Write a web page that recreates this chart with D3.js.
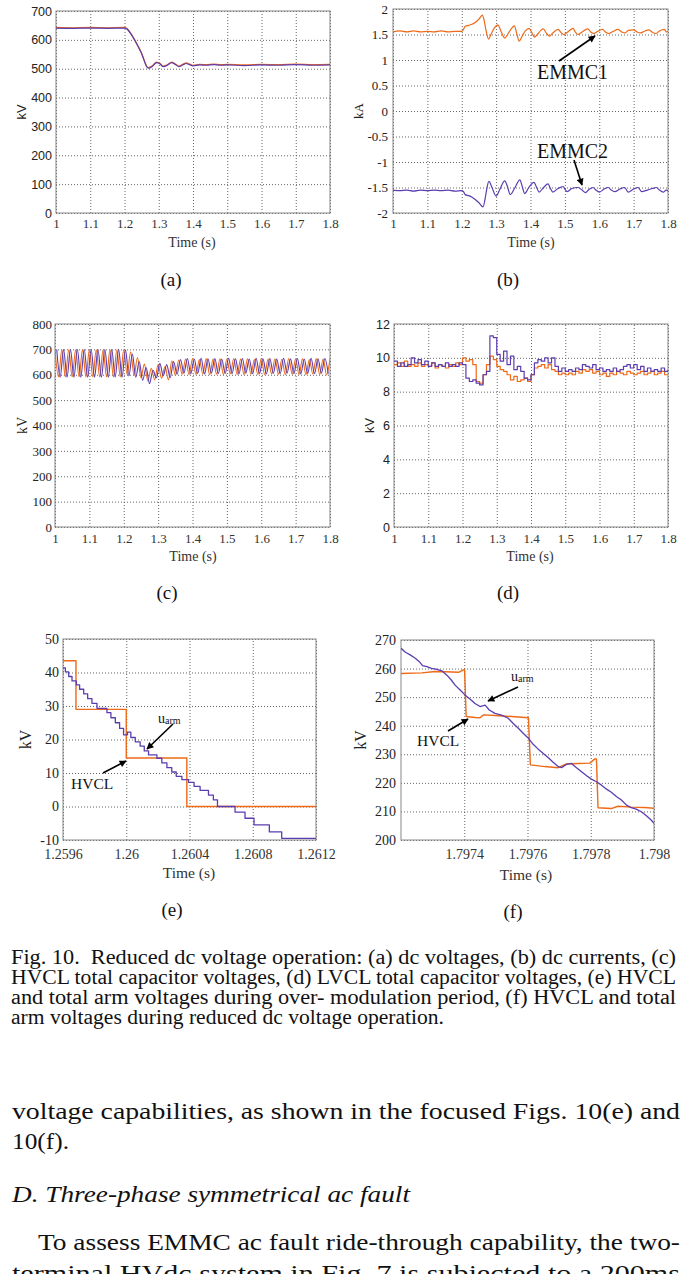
<!DOCTYPE html>
<html>
<head>
<meta charset="utf-8">
<script src="https://cdn.jsdelivr.net/npm/d3@7"></script>
<style>
  body { margin: 0; background: #fff; }
  svg { display: block; }
  .serif { font-family: 'Liberation Serif', 'Times New Roman', Times, 'Nimbus Roman', serif; }
  .sans { font-family: 'Liberation Sans', Arial, Helvetica, sans-serif; }
</style>
</head>
<body>
<svg id="fig"></svg>
<script>
// ---- data ----
const ticksTime = [1, 1.1, 1.2, 1.3, 1.4, 1.5, 1.6, 1.7, 1.8];
const ticksE = [1.2596, 1.26, 1.2604, 1.2608, 1.2612];
const ticksF = [1.7974, 1.7976, 1.7978, 1.798];

// (a) dc voltages
const tA = [1.0, 1.05, 1.1, 1.15, 1.2, 1.205, 1.21, 1.22, 1.23, 1.24, 1.25, 1.26, 1.265, 1.27, 1.28,
  1.294, 1.304, 1.313, 1.325, 1.338, 1.348, 1.359, 1.37, 1.38, 1.39, 1.40, 1.42, 1.44, 1.46, 1.48,
  1.50, 1.55, 1.60, 1.65, 1.70, 1.75, 1.80];
const vA1 = [643, 642, 643, 642, 643, 641, 636, 620, 600, 578, 554, 522, 508, 504, 509,
  523, 518, 509, 514, 523, 517, 509, 515, 520, 516, 512, 515, 514, 516, 514,
  515, 513, 515, 514, 516, 514, 515];
const vA2 = [641, 640, 641, 640, 641, 639, 634, 618, 598, 576, 552, 520, 506, 502, 507,
  521, 516, 507, 512, 521, 515, 507, 513, 518, 514, 510, 513, 512, 514, 512,
  513, 511, 513, 512, 514, 512, 513];

// (b) dc currents
const emmc1 = [[1.00,1.55],[1.02,1.57],[1.04,1.55],[1.06,1.57],[1.08,1.55],[1.10,1.56],[1.12,1.55],[1.14,1.57],
  [1.16,1.55],[1.18,1.56],[1.20,1.56],[1.205,1.60],[1.21,1.66],[1.22,1.68],[1.23,1.70],[1.24,1.74],[1.25,1.80],
  [1.26,1.88],[1.265,1.78],[1.27,1.60],[1.278,1.41],[1.285,1.50],[1.295,1.63],[1.305,1.69],[1.315,1.55],
  [1.325,1.43],[1.335,1.52],[1.345,1.62],[1.353,1.67],[1.36,1.52],[1.367,1.37],[1.375,1.46],[1.385,1.57],
  [1.396,1.62],[1.405,1.52],[1.412,1.45],[1.42,1.50],[1.43,1.58],[1.437,1.61],[1.447,1.52],[1.455,1.47],
  [1.465,1.53],[1.48,1.60],[1.49,1.53],[1.497,1.50],[1.51,1.56],[1.524,1.62],[1.53,1.55],[1.538,1.50],
  [1.55,1.55],[1.567,1.61],[1.575,1.55],[1.585,1.52],[1.595,1.56],[1.61,1.60],[1.618,1.55],[1.628,1.52],
  [1.64,1.56],[1.655,1.60],[1.665,1.55],[1.675,1.53],[1.685,1.58],[1.70,1.59],[1.71,1.55],[1.72,1.53],
  [1.73,1.56],[1.745,1.59],[1.755,1.54],[1.765,1.52],[1.775,1.57],[1.79,1.60],[1.795,1.55],[1.80,1.57]];
const emmc2 = [[1.00,-1.55],[1.02,-1.56],[1.04,-1.55],[1.06,-1.57],[1.08,-1.55],[1.10,-1.56],[1.12,-1.55],
  [1.14,-1.56],[1.16,-1.55],[1.18,-1.57],[1.20,-1.56],[1.205,-1.58],[1.21,-1.64],[1.22,-1.66],[1.23,-1.69],
  [1.24,-1.74],[1.25,-1.80],[1.262,-1.88],[1.268,-1.72],[1.273,-1.52],[1.279,-1.38],[1.288,-1.50],
  [1.30,-1.67],[1.31,-1.55],[1.325,-1.37],[1.333,-1.48],[1.341,-1.64],[1.355,-1.50],[1.369,-1.35],
  [1.376,-1.48],[1.383,-1.62],[1.395,-1.50],[1.41,-1.40],[1.418,-1.50],[1.425,-1.59],[1.438,-1.50],
  [1.451,-1.43],[1.458,-1.52],[1.465,-1.59],[1.48,-1.52],[1.495,-1.48],[1.50,-1.53],[1.507,-1.58],
  [1.52,-1.52],[1.538,-1.50],[1.55,-1.55],[1.56,-1.60],[1.57,-1.54],[1.582,-1.50],[1.59,-1.55],
  [1.601,-1.59],[1.614,-1.53],[1.626,-1.50],[1.635,-1.55],[1.645,-1.58],[1.66,-1.53],[1.674,-1.50],
  [1.684,-1.59],[1.70,-1.53],[1.713,-1.50],[1.723,-1.58],[1.74,-1.55],[1.755,-1.52],[1.766,-1.50],
  [1.775,-1.55],[1.786,-1.59],[1.795,-1.55],[1.80,-1.57]];

// (c) HVCL capacitor voltages: peaks/troughs, orange every 10 ms from 1.000 s, purple from 1.005 s
const vC1 = [698,592,698,592,698,592,698,592,698,592,698,592,698,592,698,592,698,592,698,592,
  698,600,690,598,668,588,642,576,625,580,640,586,632,580,655,598,658,602,662,600,
  663,601,660,603,664,600,662,602,663,600,661,603,664,601,662,600,663,602,660,601,
  664,600,662,603,663,601,661,600,664,602,662,601,663,600,660,603,664,601,662,600,663];
const vC2 = [700,590,700,590,700,590,700,590,700,590,700,590,700,590,700,590,700,590,700,590,
  698,595,682,590,652,578,628,565,618,588,645,596,640,588,652,602,660,606,664,604,
  662,605,665,603,663,606,664,604,662,605,665,604,663,603,664,606,662,604,665,605,
  663,603,664,605,662,604,665,606,663,604,664,603,662,605,665,604,663,606,664,604];

// (d) LVCL capacitor voltages, every 10 ms from 1.00 s
const vD1 = [9.6,9.7,9.5,9.8,9.5,9.6,9.5,9.7,9.5,9.6,9.5,9.7,9.4,9.6,9.5,9.4,9.6,9.5,9.7,9.6,
  10.0,9.8,9.9,9.6,8.6,8.5,9.0,9.6,10.1,9.9,9.5,9.3,9.2,9.0,8.7,8.9,8.6,8.7,8.8,8.6,
  9.0,9.4,9.5,9.6,9.4,9.6,9.3,9.2,9.0,9.1,9.0,9.1,9.0,9.2,9.1,9.3,9.2,9.3,9.1,9.2,
  9.0,9.1,8.9,9.1,9.0,9.2,9.1,9.0,9.2,9.1,9.0,9.1,9.2,9.0,9.1,9.2,9.0,9.1,9.2,9.0,9.0];
const vD2 = [9.8,9.5,9.7,9.5,9.6,10.0,9.7,9.9,9.6,9.8,9.5,9.7,9.5,9.6,9.5,9.7,9.5,9.6,9.5,9.7,
  9.6,8.8,8.6,8.7,8.5,8.4,9.0,9.2,11.3,11.2,10.2,9.8,10.4,9.6,10.1,9.3,9.5,9.2,8.8,8.7,
  9.0,9.7,9.9,9.8,10.0,9.7,10.0,9.5,9.2,9.4,9.2,9.3,9.2,9.4,9.3,9.6,9.5,9.4,9.6,9.3,
  9.4,9.2,9.3,9.2,9.4,9.2,9.3,9.5,9.6,9.4,9.6,9.3,9.5,9.2,9.4,9.2,9.3,9.2,9.4,9.2,9.3];

// (e) over-modulation zoom
const hvclE = [[1.2596,43.5],[1.259682,29],[1.26,14.5],[1.260383,0],[1.2612,0]];
const uarmE = [[1.2596,41.4],[1.259615,40.2],[1.259636,38.8],[1.259657,37.5],[1.259684,36.3],
  [1.259705,35.0],[1.259731,33.6],[1.259756,32.2],[1.259783,30.8],[1.259815,29.3],[1.259878,28.0],
  [1.259903,26.5],[1.259931,25.0],[1.259958,23.3],[1.259983,21.4],[1.260008,22.2],[1.260029,20.6],
  [1.260057,19.3],[1.260088,18.0],[1.260114,16.6],[1.260141,15.4],[1.260194,14.4],[1.260225,13.0],
  [1.260257,11.6],[1.260288,10.3],[1.260316,9.0],[1.260352,8.0],[1.260394,7.2],[1.260429,6.0],
  [1.260467,4.8],[1.26052,3.4],[1.260551,2.0],[1.260577,0],[1.260688,-1.7],[1.260751,-3.5],
  [1.260808,-5.5],[1.260905,-7.6],[1.260983,-9.5],[1.2612,-9.5]];

// (f) reduced dc voltage zoom
const hvclF = [[1.7972,258.3],[1.797266,258.5],[1.797308,259.0],[1.79734,258.9],[1.797382,258.7],
  [1.797401,259.7],[1.797406,243.2],[1.797434,242.9],[1.79745,242.8],[1.797461,243.8],[1.797497,243.6],
  [1.79755,243.2],[1.797603,242.8],[1.797609,226.3],[1.797655,225.7],[1.797697,225.3],[1.797723,226.6],
  [1.79776,226.8],[1.797797,226.9],[1.797813,228.4],[1.797818,228.4],[1.797823,211.3],[1.797865,211.0],
  [1.797886,211.8],[1.797928,211.5],[1.79797,211.4],[1.798,211.1]];
const uarmF = [[1.7972,267.1],[1.797214,265.7],[1.797229,264.8],[1.797245,263.6],[1.797258,262.4],
  [1.797268,261.0],[1.797282,260.7],[1.797296,260.1],[1.797314,259.7],[1.797329,259.2],[1.797345,257.7],
  [1.797359,256.0],[1.797371,254.2],[1.797387,252.5],[1.797403,250.7],[1.797419,249.3],[1.797434,247.8],
  [1.79745,246.7],[1.797466,247.2],[1.797479,245.5],[1.797497,244.3],[1.797518,243.7],[1.797539,242.6],
  [1.797555,240.8],[1.797571,239.1],[1.797587,237.3],[1.797603,235.6],[1.797618,233.5],[1.797634,231.8],
  [1.79765,230.3],[1.797666,228.8],[1.797681,227.2],[1.797697,225.7],[1.797708,225.3],[1.797723,226.5],
  [1.797739,226.8],[1.797755,225.3],[1.797771,223.9],[1.797787,222.5],[1.797802,221.3],[1.797818,220.4],
  [1.797834,219.2],[1.79785,217.8],[1.797865,216.7],[1.797881,215.2],[1.797897,214.0],[1.797913,212.2],
  [1.797928,211.3],[1.797944,210.8],[1.79796,209.9],[1.797976,208.5],[1.797991,207.0],[1.798,205.8]];

const captionLines = [
  'Fig. 10.  Reduced dc voltage operation: (a) dc voltages, (b) dc currents, (c)',
  'HVCL total capacitor voltages, (d) LVCL total capacitor voltages, (e) HVCL',
  'and total arm voltages during over- modulation period, (f) HVCL and total',
  'arm voltages during reduced dc voltage operation.'
];

// ---- drawing ----
const W = 699, H = 1274;
const ORANGE = '#ee6a16', PURPLE = '#5b3db0';
const fmt = d => String(+d.toFixed(4));

const svg = d3.select('#fig').attr('width', W).attr('height', H);
svg.append('rect').attr('width', W).attr('height', H).attr('fill', '#fff');

const defs = svg.append('defs');
defs.append('marker').attr('id', 'arrow')
  .attr('viewBox', '0 0 10 10').attr('refX', 9).attr('refY', 5)
  .attr('markerWidth', 9).attr('markerHeight', 7).attr('markerUnits', 'userSpaceOnUse')
  .attr('orient', 'auto')
  .append('path').attr('d', 'M0,0L10,5L0,10z').attr('fill', '#000');

function makePanel(o) {
  const g = svg.append('g');
  const x = d3.scaleLinear().domain(o.xDomain).range([o.left, o.right]);
  const y = d3.scaleLinear().domain(o.yDomain).range([o.bottom, o.top]);
  const h = o.bottom - o.top, w = o.right - o.left;

  defs.append('clipPath').attr('id', 'clip-' + o.id)
    .append('rect').attr('x', o.left).attr('y', o.top).attr('width', w).attr('height', h);

  const gx = g.append('g').attr('transform', `translate(0,${o.bottom})`)
    .call(d3.axisBottom(x).tickValues(o.xTicks).tickSize(-h).tickPadding(o.xPad).tickFormat(fmt));
  const gy = g.append('g').attr('transform', `translate(${o.left},0)`)
    .call(d3.axisLeft(y).tickValues(o.yTicks).tickSize(-w).tickPadding(o.yPad).tickFormat(fmt));
  [gx, gy].forEach(a => {
    a.attr('font-family', null).attr('font-size', null);
    a.select('.domain').remove();
    a.selectAll('.tick line').attr('stroke', '#555').attr('stroke-width', 0.9)
      .attr('stroke-dasharray', '1,2');
  });
  gx.selectAll('.tick text').attr('class', 'serif').style('font-size', o.xFs + 'px').attr('fill', '#333');
  gy.selectAll('.tick text').attr('class', o.yFont).style('font-size', o.yFs + 'px').attr('fill', '#222');

  g.append('rect').attr('x', o.left).attr('y', o.top).attr('width', w).attr('height', h)
    .attr('fill', 'none').attr('stroke', '#888').attr('stroke-width', 1);

  g.append('text').attr('transform', `translate(${o.ylabX},${(o.top + o.bottom) / 2}) rotate(-90)`)
    .attr('text-anchor', 'middle').attr('class', o.yFont).style('font-size', o.ylabFs + 'px')
    .attr('fill', '#222').text(o.ylab);
  g.append('text').attr('x', o.timeX).attr('y', o.timeY).attr('text-anchor', 'middle')
    .attr('class', 'serif').style('font-size', o.timeFs + 'px').attr('fill', '#333').text('Time (s)');
  g.append('text').attr('x', o.subX).attr('y', o.subY).attr('text-anchor', 'middle')
    .attr('class', 'serif').style('font-size', '19px').attr('fill', '#111').text(o.sub);

  const plot = g.append('g').attr('clip-path', `url(#clip-${o.id})`);
  return { g, plot, x, y };
}

function drawLine(p, data, color, curve, width) {
  p.plot.append('path').datum(data)
    .attr('fill', 'none').attr('stroke', color).attr('stroke-width', width || 1.2)
    .attr('stroke-linejoin', 'round')
    .attr('d', d3.line().x(d => p.x(d[0])).y(d => p.y(d[1])).curve(curve || d3.curveLinear));
}

function arrow(x1, y1, x2, y2) {
  svg.append('line').attr('x1', x1).attr('y1', y1).attr('x2', x2).attr('y2', y2)
    .attr('stroke', '#000').attr('stroke-width', 1.6).attr('marker-end', 'url(#arrow)');
}

function label(x, y, txt, fs) {
  svg.append('text').attr('x', x).attr('y', y).attr('class', 'serif')
    .style('font-size', fs + 'px').attr('fill', '#111').text(txt);
}

function uarm(x, y) {
  const t = svg.append('text').attr('x', x).attr('y', y).attr('class', 'serif').attr('fill', '#111');
  t.append('tspan').style('font-size', '14px').text('u');
  t.append('tspan').style('font-size', '10px').attr('dy', 1).text('arm');
}

// (a)
const pA = makePanel({ id: 'a', left: 56, right: 330, top: 11, bottom: 213,
  xDomain: [1, 1.8], yDomain: [0, 700], xTicks: ticksTime, yTicks: d3.range(0, 701, 100),
  xPad: 6, yPad: 4, xFs: 13, yFs: 12.5, yFont: 'sans', ylab: 'kV', ylabX: 26, ylabFs: 13,
  timeX: 192, timeY: 247, timeFs: 14, sub: '(a)', subX: 171, subY: 286 });
drawLine(pA, d3.zip(tA, vA1), ORANGE, d3.curveMonotoneX);
drawLine(pA, d3.zip(tA, vA2), PURPLE, d3.curveMonotoneX);

// (b)
const pB = makePanel({ id: 'b', left: 393, right: 668, top: 9, bottom: 213,
  xDomain: [1, 1.8], yDomain: [-2, 2], xTicks: ticksTime, yTicks: d3.range(-2, 2.01, 0.5),
  xPad: 6, yPad: 5, xFs: 13, yFs: 13, yFont: 'serif', ylab: 'kA', ylabX: 363, ylabFs: 13,
  timeX: 531, timeY: 247, timeFs: 14, sub: '(b)', subX: 508, subY: 286 });
drawLine(pB, emmc1, ORANGE, d3.curveMonotoneX);
drawLine(pB, emmc2, PURPLE, d3.curveMonotoneX);

// (c)
const pC = makePanel({ id: 'c', left: 55, right: 330, top: 324, bottom: 527,
  xDomain: [1, 1.8], yDomain: [0, 800], xTicks: ticksTime, yTicks: d3.range(0, 801, 100),
  xPad: 7, yPad: 3, xFs: 13, yFs: 13, yFont: 'serif', ylab: 'kV', ylabX: 27, ylabFs: 14,
  timeX: 193, timeY: 561, timeFs: 14, sub: '(c)', subX: 167, subY: 599 });
drawLine(pC, vC1.map((v, i) => [1 + i * 0.01, v]), ORANGE, d3.curveMonotoneX, 1.1);
drawLine(pC, vC2.map((v, i) => [1.005 + i * 0.01, v]), PURPLE, d3.curveMonotoneX, 1.1);

// (d)
const pD = makePanel({ id: 'd', left: 394, right: 668, top: 324, bottom: 527,
  xDomain: [1, 1.8], yDomain: [0, 12], xTicks: ticksTime, yTicks: d3.range(0, 12.1, 2),
  xPad: 7, yPad: 4, xFs: 13, yFs: 12.5, yFont: 'sans', ylab: 'kV', ylabX: 374, ylabFs: 13,
  timeX: 530, timeY: 561, timeFs: 14, sub: '(d)', subX: 508, subY: 599 });
drawLine(pD, vD1.map((v, i) => [1 + i * 0.01, v]), ORANGE, d3.curveStepAfter);
drawLine(pD, vD2.map((v, i) => [1 + i * 0.01, v]), PURPLE, d3.curveStepAfter);

// (e)
const pE = makePanel({ id: 'e', left: 63, right: 316, top: 639, bottom: 840,
  xDomain: [1.2596, 1.2612], yDomain: [-10, 50], xTicks: ticksE, yTicks: d3.range(-10, 51, 10),
  xPad: 9, yPad: 4, xFs: 14, yFs: 14, yFont: 'serif', ylab: 'kV', ylabX: 31, ylabFs: 16,
  timeX: 189, timeY: 878, timeFs: 15.5, sub: '(e)', subX: 172, subY: 916 });
drawLine(pE, hvclE, ORANGE, d3.curveStepAfter, 1.4);
drawLine(pE, uarmE, PURPLE, d3.curveStepAfter, 1.3);

// (f)
const pF = makePanel({ id: 'f', left: 401, right: 654, top: 640, bottom: 840,
  xDomain: [1.7972, 1.798], yDomain: [200, 270], xTicks: ticksF, yTicks: d3.range(200, 271, 10),
  xPad: 9, yPad: 5, xFs: 14, yFs: 14, yFont: 'serif', ylab: 'kV', ylabX: 366, ylabFs: 16,
  timeX: 526, timeY: 880, timeFs: 15.5, sub: '(f)', subX: 513, subY: 918 });
drawLine(pF, hvclF, ORANGE, d3.curveLinear, 1.4);
drawLine(pF, uarmF, PURPLE, d3.curveLinear, 1.3);

// annotations
label(537, 79, 'EMMC1', 20);
arrow(559, 61, 595, 36);
label(537, 158, 'EMMC2', 20);
arrow(574, 160, 582, 185);
uarm(158, 723);
arrow(173, 724, 147, 749);
label(71, 789, 'HVCL', 15.5);
arrow(103, 773, 126, 761);
uarm(511, 681);
arrow(518, 687, 488, 701);
label(417, 746, 'HVCL', 15.5);
arrow(448, 731, 468, 719);

// caption
const capBase = [964, 984, 1004, 1024];
const capEnd = [676, 676, 676, 444];
captionLines.forEach((line, i) => {
  svg.append('text').attr('x', 11).attr('y', capBase[i])
    .attr('class', 'serif').style('font-size', '20px').attr('fill', '#111')
    .attr('textLength', capEnd[i] - 11).attr('lengthAdjust', 'spacingAndGlyphs')
    .style('white-space', 'pre').text(line);
});

// following body text (cut by the page edge, as in the source)
const body = [
  { x: 12, y: 1119, end: 680, t: 'voltage capabilities, as shown in the focused Figs. 10(e) and' },
  { x: 12, y: 1149, end: 69, t: '10(f).' },
  { x: 12, y: 1202, end: 410, t: 'D. Three-phase symmetrical ac fault', italic: true },
  { x: 38, y: 1250, end: 680, t: 'To assess EMMC ac fault ride-through capability, the two-' },
  { x: 12, y: 1281, end: 680, t: 'terminal HVdc system in Fig. 7 is subjected to a 200ms' }
];
body.forEach(b => {
  svg.append('text').attr('x', b.x).attr('y', b.y)
    .attr('class', 'serif').style('font-size', '24px').attr('fill', '#111')
    .style('font-style', b.italic ? 'italic' : 'normal')
    .attr('textLength', b.end - b.x).attr('lengthAdjust', 'spacingAndGlyphs')
    .text(b.t);
});
</script>
</body>
</html>
